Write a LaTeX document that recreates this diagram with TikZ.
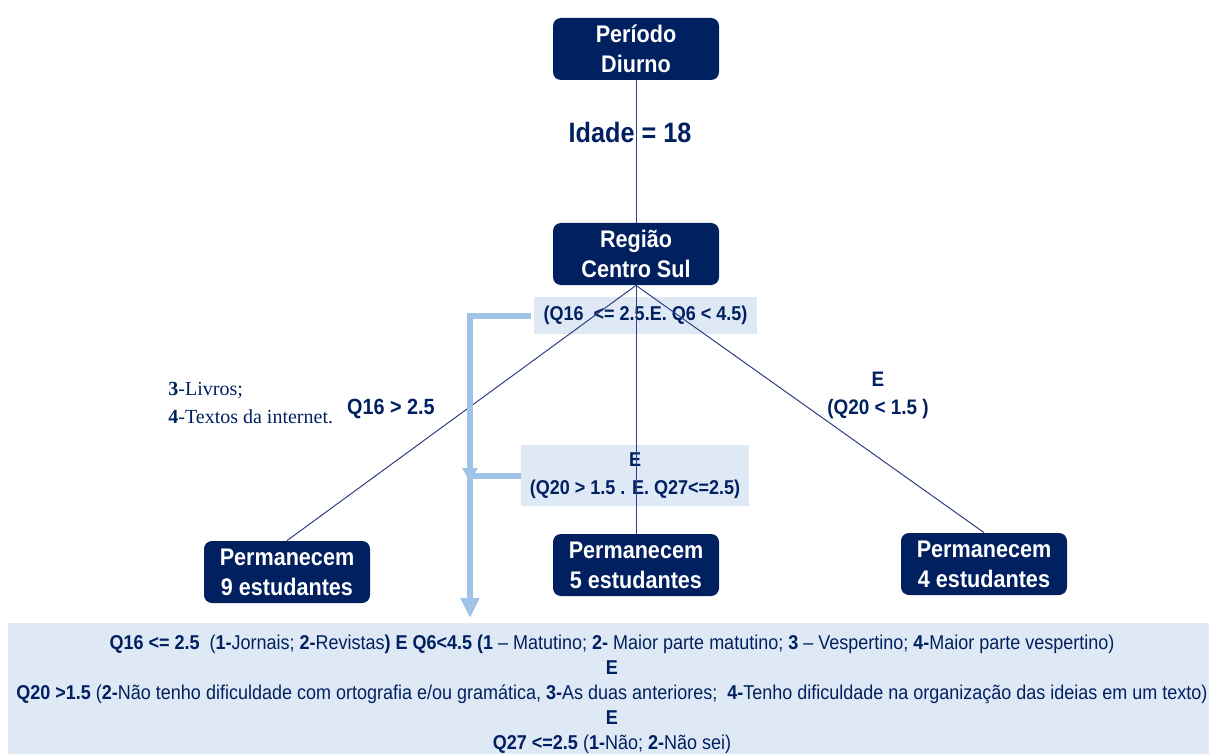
\documentclass[tikz,border=0pt]{standalone}
\usepackage{fontspec}
\setmainfont{Liberation Sans}[FakeStretch=0.9]
\newfontfamily\timesfont{Liberation Serif}
\usetikzlibrary{arrows.meta}

\definecolor{navy}{RGB}{0,32,96}
\definecolor{paleblue}{RGB}{222,233,245}
\definecolor{flowblue}{RGB}{160,196,232}
\definecolor{edgeblue}{RGB}{47,63,127}

\begin{document}
\begin{tikzpicture}[x=0.5pt,y=-0.5pt,
  darkbox/.style={fill=navy, rounded corners=4pt, text=white, align=center,
    font=\fontsize{12}{15}\selectfont\bfseries,
    minimum width=83pt, minimum height=31pt, inner sep=0pt},
  palebox/.style={fill=paleblue, text=navy, align=center, inner sep=0pt,
    font=\fontsize{10}{14}\selectfont\bfseries},
  cond/.style={text=navy, align=center, inner sep=0pt,
    font=\fontsize{10.5}{14}\selectfont\bfseries},
  edge/.style={edgeblue, line width=0.5pt},
  flow/.style={flowblue, line width=3pt}]

  \useasboundingbox (0,0) rectangle (1209,754);

  % condition boxes
  \node[palebox, minimum width=111.5pt, minimum height=18.5pt] (q1) at (645.5,315.5)
    {(Q16 \ <= 2.5.E. Q6 < 4.5)};
  \node[palebox, minimum width=114pt, minimum height=30.5pt] (q2) at (635,475.5)
    {E\\(Q20 > 1.5 . E. Q27<=2.5)};
  \node[fill=paleblue, minimum width=600.5pt, minimum height=65.5pt, inner sep=0pt]
    (legendbox) at (608.5,688.5) {};

  % tree nodes
  \node[darkbox] (periodo) at (636,49) {Período\\Diurno};
  \node[darkbox] (regiao) at (636,254) {Região\\Centro Sul};
  \node[darkbox] (perm9) at (287,572) {Permanecem\\9 estudantes};
  \node[darkbox] (perm5) at (636,565) {Permanecem\\5 estudantes};
  \node[darkbox] (perm4) at (984,564) {Permanecem\\4 estudantes};

  \draw[edge] (periodo) -- (regiao);
  \draw[edge] (regiao.south) -- (perm9.north);
  \draw[edge] (regiao.south) -- (perm5.north);
  \draw[edge] (regiao.south) -- (perm4.north);

  % labels
  \node[cond, font=\fontsize{14}{17}\selectfont\bfseries] (idade) at (630,132) {Idade = 18};
  \node[cond, font=\fontsize{11}{14}\selectfont\bfseries] (q16gt) at (391,409) {Q16 > 2.5};
  \node[cond] (q20lt) at (878,395) {E\\(Q20 < 1.5 )};
  \node[text=navy, anchor=west, align=left, inner sep=0pt,
    font=\fontsize{10}{14}\selectfont\timesfont] (fontes) at (168,403)
    {\textbf{3}-Livros;\\\textbf{4}-Textos da internet.};

  % light blue flow
  \coordinate (join) at (470,482);
  \coordinate (drop) at (470,618);
  \draw[flow, -{Triangle[width=7.5pt,length=7pt]}] ([xshift=-1.5pt]q1.west) -| (join);
  \draw[flow, -{Triangle[width=9pt,length=10pt]}] (q2.west) -| (drop);

  \node[text=navy, align=center, inner sep=0pt, font=\fontsize{10}{12.5}\selectfont]
    (legend) at (612,694)
    {\textbf{Q16 <= 2.5} \ (\textbf{1-}Jornais; \textbf{2-}Revistas\textbf{) E Q6<4.5 (1} – Matutino; \textbf{2-} Maior parte matutino; \textbf{3} – Vespertino; \textbf{4-}Maior parte vespertino)\\
     \textbf{E}\\
     \textbf{Q20 >1.5} (\textbf{2-}Não tenho dificuldade com ortografia e/ou gramática, \textbf{3-}As duas anteriores; \ \textbf{4-}Tenho dificuldade na organização das ideias em um texto)\\
     \textbf{E}\\
     \textbf{Q27 <=2.5} (\textbf{1-}Não; \textbf{2-}Não sei)};

\end{tikzpicture}
\end{document}
